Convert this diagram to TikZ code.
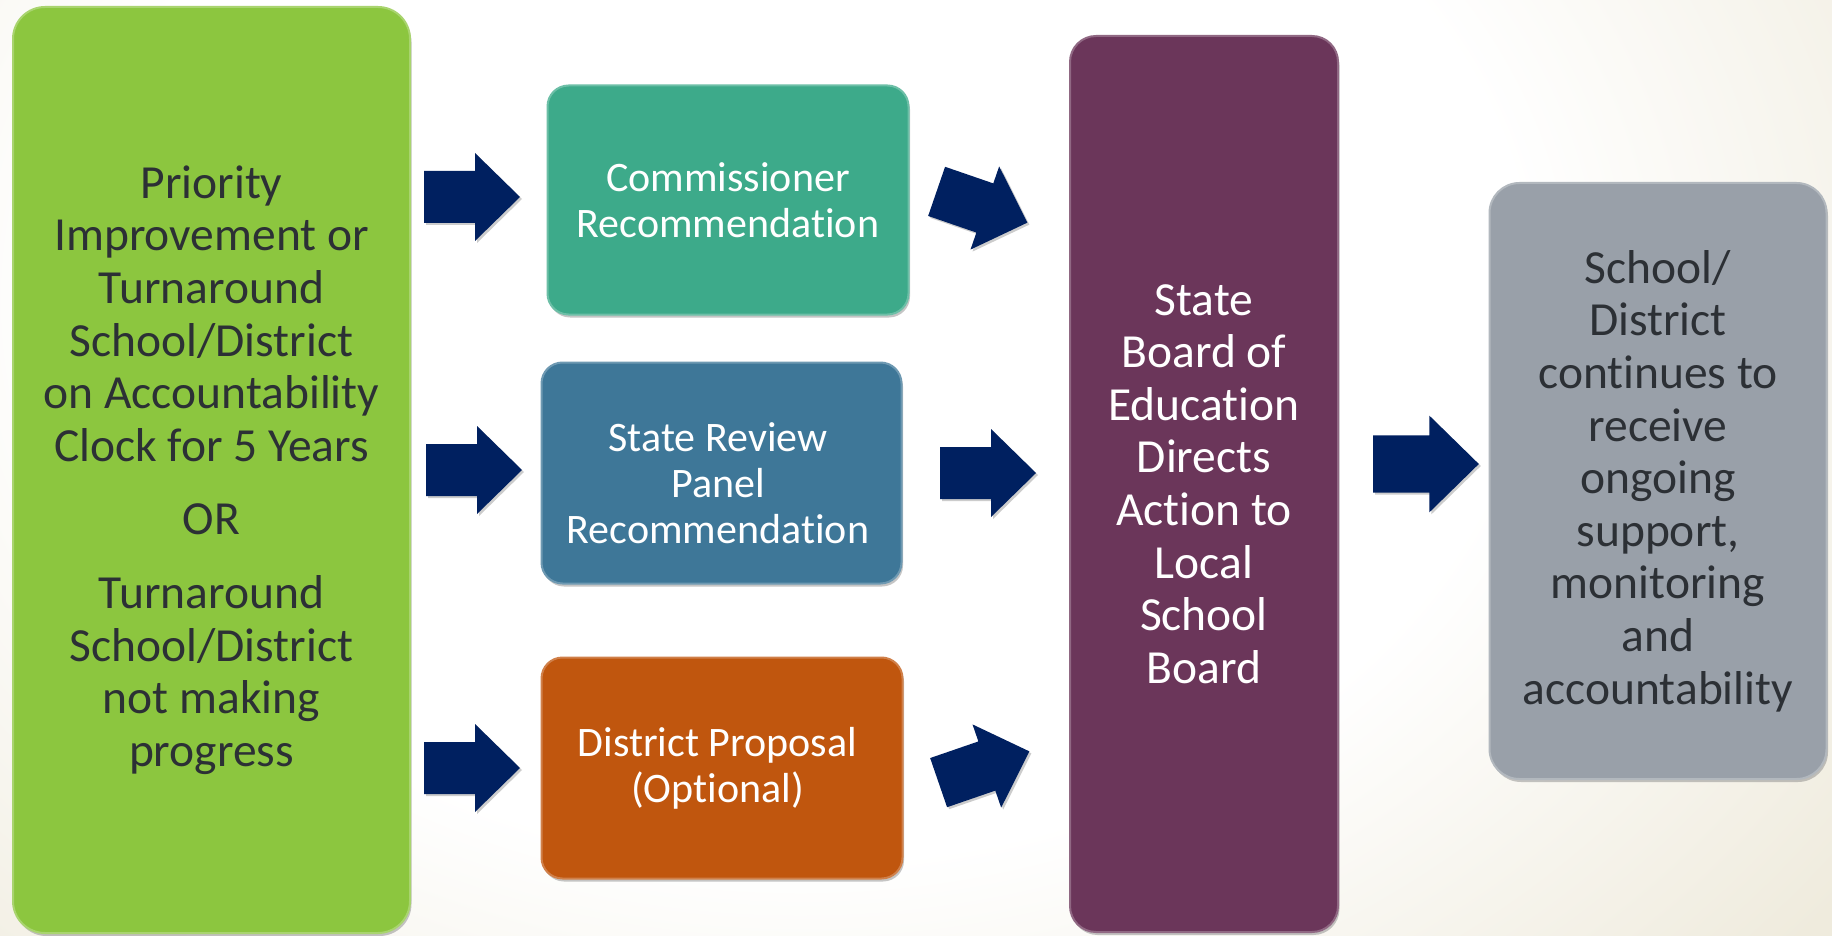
\documentclass[tikz,border=0pt]{standalone}
\usepackage{fontspec}
\setmainfont[Ligatures={NoCommon}]{Carlito}
\usetikzlibrary{shadows}
\definecolor{bgbeige}{HTML}{EFEBDD}
\definecolor{cgreen}{HTML}{8CC63F}
\definecolor{cteal}{HTML}{3DAA8A}
\definecolor{cblue}{HTML}{3E7798}
\definecolor{corange}{HTML}{C0560E}
\definecolor{cpurple}{HTML}{6B365A}
\definecolor{cgray}{HTML}{99A0A9}
\definecolor{navy}{HTML}{002060}
\definecolor{darktext}{HTML}{2C3035}
\pgfdeclareradialshading{bgshade}{\pgfpoint{0bp}{0bp}}{color(0bp)=(white); color(14bp)=(white); color(25bp)=(bgbeige); color(50bp)=(bgbeige)}
\tikzset{
  box/.style={draw=#1!75!white, line width=2pt, fill=#1, inner sep=0pt, align=center,
    drop shadow={opacity=0.45, shadow xshift=1.5pt, shadow yshift=-3pt}},
  bigtxt/.style={font=\fontsize{47.5}{52.6}\selectfont},
  midtxt/.style={font=\fontsize{42}{46}\selectfont},
  blockarrow/.pic={\fill[navy, drop shadow={opacity=0.4, shadow xshift=2pt, shadow yshift=-2pt}]
    (-48,-26) -- (3,-26) -- (3,-44) -- (48,0) -- (3,44) -- (3,26) -- (-48,26) -- cycle;}
}
\begin{document}
\begin{tikzpicture}[x=1pt,y=-1pt]
\useasboundingbox (0,0) rectangle (1832,936);
\shade[shading=bgshade] (-500,-700) rectangle (2100,1300);
% boxes
\node[box=cgreen, rounded corners=32pt, minimum width=397pt, minimum height=926pt,
  bigtxt, text=darktext] (cond) at (211.5,470)
  {Priority\\Improvement or\\Turnaround\\School/District\\on Accountability\\Clock for 5 Years\\[21pt]OR\\[21pt]Turnaround\\School/District\\not making\\progress};
\node[box=cteal, rounded corners=21pt, minimum width=361pt, minimum height=229pt,
  midtxt, text=white] (comm) at (728,200) {Commissioner\\Recommendation};
\node[box=cblue, rounded corners=21pt, minimum width=360pt, minimum height=221pt] (srp) at (721.5,473) {};
\node[midtxt, text=white, align=center] (srptxt) at ([xshift=-3.5pt,yshift=-10pt]srp.center) {State Review\\Panel\\Recommendation};
\node[box=corange, rounded corners=21pt, minimum width=361pt, minimum height=221pt] (dist) at (722,768) {};
\node[midtxt, text=white, align=center] (disttxt) at ([xshift=-4.5pt]dist.center) {District Proposal\\(Optional)};
\node[box=cpurple, rounded corners=26pt, minimum width=268pt, minimum height=896pt,
  bigtxt, text=white] (sbe) at (1204,484) {State\\Board of\\Education\\Directs\\Action to\\Local\\School\\Board};
\node[box=cgray, rounded corners=30pt, minimum width=337pt, minimum height=596pt,
  bigtxt, text=darktext] (cont) at (1658,481) {School/\\District\\continues to\\receive\\ongoing\\support,\\monitoring\\and\\accountability};
% arrows
\pic at (472,197) {blockarrow};
\pic at (474,470) {blockarrow};
\pic at (472,768) {blockarrow};
\pic[rotate=-19] at (982,207) {blockarrow};
\pic at (988,473) {blockarrow};
\pic[rotate=19] at (984,767) {blockarrow};
\pic[scale=1.1] at (1426,464) {blockarrow};
\end{tikzpicture}
\end{document}
